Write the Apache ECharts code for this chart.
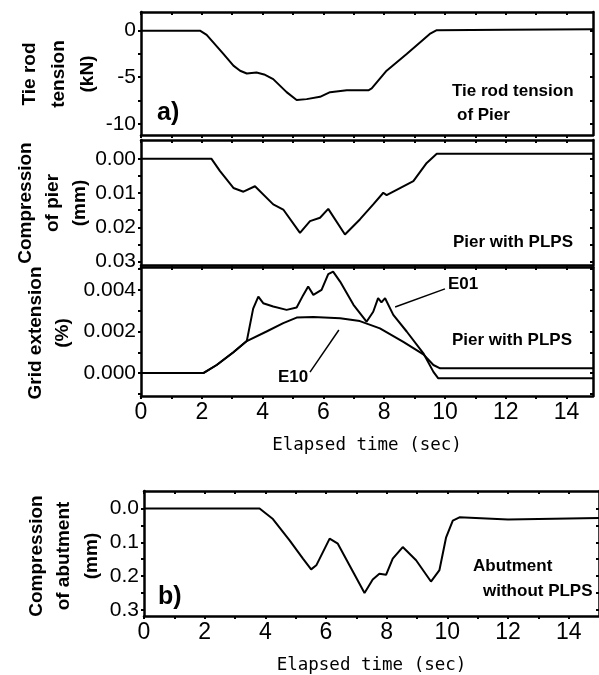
<!DOCTYPE html>
<html>
<head>
<meta charset="utf-8">
<script src="https://cdn.jsdelivr.net/npm/echarts@6/dist/echarts.min.js"></script>
<style>
  html, body { margin: 0; padding: 0; background: #fff; }
  #chart { width: 599px; height: 675px; }
</style>
</head>
<body>
<div id="chart"></div>
<script>
// a) tie rod tension (kN)
const tieTime = [0, 1.94, 2.16, 2.71, 3.04, 3.26, 3.48, 3.8, 4.05, 4.35, 4.79, 5.12, 5.45, 5.89, 6.22, 6.77, 7.48, 7.59, 8.08, 8.74, 9.5, 9.73, 12, 14.87];
const tieKN = [0, 0, -0.45, -2.5, -3.76, -4.3, -4.6, -4.5, -4.7, -5.2, -6.6, -7.45, -7.35, -7.1, -6.6, -6.4, -6.4, -6.2, -4.3, -2.5, -0.36, 0.05, 0.1, 0.15];

// a) compression of pier (mm)
const pierTime = [0, 2.32, 2.6, 3.04, 3.37, 3.75, 4.35, 4.68, 5.23, 5.56, 5.89, 6.16, 6.71, 7.2, 7.64, 7.97, 8.08, 8.96, 9.4, 9.73, 12, 14.87];
const pierMM = [0, 0, 0.0036, 0.0085, 0.0096, 0.008, 0.0133, 0.0148, 0.0216, 0.0182, 0.0172, 0.0146, 0.0221, 0.0177, 0.0133, 0.0099, 0.0106, 0.0065, 0.0012, -0.0015, -0.0015, -0.0015];

// a) grid extension (%)
const e01Time = [0, 2.05, 2.49, 3.04, 3.48, 3.69, 3.86, 4.02, 4.35, 4.79, 5.12, 5.34, 5.5, 5.67, 5.94, 6.16, 6.32, 6.55, 6.99, 7.42, 7.64, 7.8, 7.91, 8.03, 8.3, 8.74, 9.29, 9.62, 9.78, 12, 14.87];
const e01Pct = [0, 0, 0.00039, 0.001, 0.00154, 0.0031, 0.00368, 0.00336, 0.0032, 0.00304, 0.00315, 0.00376, 0.00416, 0.00376, 0.004, 0.00476, 0.00488, 0.0044, 0.00328, 0.00247, 0.00295, 0.0036, 0.0034, 0.0036, 0.0028, 0.002, 0.00095, 0.00006, -0.00025, -0.00025, -0.00025];
const e10Time = [0, 2.05, 2.49, 3.04, 3.48, 4.13, 4.68, 5.12, 5.67, 6.55, 7.2, 7.86, 8.63, 9.29, 9.62, 9.84, 12, 14.87];
const e10Pct = [0, 0, 0.00039, 0.001, 0.00154, 0.002, 0.0024, 0.00267, 0.0027, 0.00264, 0.0025, 0.00215, 0.0015, 0.0009, 0.00039, 0.00023, 0.00023, 0.00023];

// b) compression of abutment (mm)
const abutTime = [0, 3.81, 4.25, 4.8, 5.24, 5.51, 5.68, 6.12, 6.39, 6.89, 7.27, 7.54, 7.76, 7.98, 8.2, 8.53, 8.97, 9.46, 9.74, 9.96, 10.18, 10.4, 12, 15];
const abutMM = [0, 0, 0.031, 0.094, 0.148, 0.18, 0.168, 0.089, 0.104, 0.187, 0.25, 0.21, 0.193, 0.196, 0.148, 0.114, 0.153, 0.216, 0.182, 0.085, 0.036, 0.026, 0.032, 0.028];

// ticks and labels
const xTicks = [0, 1, 2, 3, 4, 5, 6, 7, 8, 9, 10, 11, 12, 13, 14];
const xLabels = [0, 2, 4, 6, 8, 10, 12, 14];
const tieTicks = [-10, -7.5, -5, -2.5, 0];
const tieLabels = [-10, -5, 0];
const pierTicks = [0, 0.005, 0.01, 0.015, 0.02, 0.025, 0.03];
const pierLabels = [0, 0.01, 0.02, 0.03];
const gridTicks = [-0.001, 0, 0.001, 0.002, 0.003, 0.004, 0.005];
const gridLabels = [0, 0.002, 0.004];
const abutTicks = [0, 0.05, 0.1, 0.15, 0.2, 0.25, 0.3];
const abutLabels = [0, 0.1, 0.2, 0.3];

const zip = (a, b) => a.map((t, i) => [t, b[i]]);
const black = "#000";
const sans = "Liberation Sans";

const xAxisFor = (grid, pos, max, labels, name) => ({
  type: "value",
  gridIndex: grid,
  position: pos,
  min: 0,
  max: max,
  name: name || "",
  nameLocation: "middle",
  nameGap: 40,
  nameTextStyle: { fontFamily: "DejaVu Sans Mono", fontSize: 17.5, color: black },
  axisLine: { show: true, onZero: false, lineStyle: { color: black, width: 2.5 } },
  axisTick: { show: true, inside: pos === "top", length: 3, customValues: xTicks, lineStyle: { color: black, width: 2 } },
  axisLabel: { show: !!labels, customValues: xLabels, fontFamily: sans, fontSize: 23, color: black, margin: 5 },
  splitLine: { show: false }
});

const yAxisFor = (grid, pos, min, max, ticks, labels, digits, inverse) => ({
  type: "value",
  gridIndex: grid,
  position: pos,
  min: min,
  max: max,
  inverse: !!inverse,
  axisLine: { show: true, onZero: false, lineStyle: { color: black, width: 2.5 } },
  axisTick: { show: true, inside: pos === "right", length: 3, customValues: ticks, lineStyle: { color: black, width: 2 } },
  axisLabel: {
    show: !!labels,
    customValues: labels || [],
    fontFamily: sans,
    fontSize: 21,
    color: black,
    margin: 5,
    formatter: v => (digits === null ? String(Math.round(v)) : Number(v).toFixed(digits))
  },
  splitLine: { show: false }
});

const lineSeries = (data, xi, yi, extra) => Object.assign({
  type: "line",
  xAxisIndex: xi,
  yAxisIndex: yi,
  data: data,
  showSymbol: false,
  symbol: "none",
  lineStyle: { color: black, width: 2 },
  z: 3
}, extra || {});

const txt = (x, y, text, size, extra) => Object.assign({
  type: "text",
  x: x,
  y: y,
  style: {
    text: text,
    fontFamily: sans,
    fontWeight: "bold",
    fontSize: size,
    fill: black,
    textAlign: "left",
    textVerticalAlign: "middle"
  }
}, extra || {});

const vTitle = (x, y, text, lh) => ({
  type: "text",
  x: x,
  y: y,
  rotation: Math.PI / 2,
  style: {
    text: text,
    fontFamily: sans,
    fontWeight: "bold",
    fontSize: 19,
    lineHeight: lh,
    fill: black,
    textAlign: "center",
    textVerticalAlign: "middle"
  }
});

const leader = (from, to) => ({
  silent: true,
  symbol: "none",
  label: { show: false },
  lineStyle: { color: black, width: 1.5, type: "solid" },
  data: [[{ coord: from }, { coord: to }]]
});

const chart = echarts.init(document.getElementById("chart"));
chart.setOption({
  animation: false,
  backgroundColor: "#fff",
  grid: [
    { left: 141, top: 12, width: 452, height: 123 },
    { left: 141, top: 140, width: 452, height: 125 },
    { left: 141, top: 267, width: 452, height: 129 },
    { left: 144, top: 491, width: 457, height: 127 }
  ],
  xAxis: [
    xAxisFor(0, "bottom", 14.87, false),
    xAxisFor(1, "bottom", 14.87, false),
    xAxisFor(2, "bottom", 14.87, true, "Elapsed time (sec)"),
    xAxisFor(3, "bottom", 15, true, "Elapsed time (sec)"),
    xAxisFor(0, "top", 14.87, false),
    xAxisFor(1, "top", 14.87, false),
    xAxisFor(2, "top", 14.87, false),
    xAxisFor(3, "top", 15, false)
  ],
  yAxis: [
    yAxisFor(0, "left", -11.2, 2, tieTicks, tieLabels, null),
    yAxisFor(1, "left", -0.0055, 0.031, pierTicks, pierLabels, 2, true),
    yAxisFor(2, "left", -0.0011, 0.0051, gridTicks, gridLabels, 3),
    yAxisFor(3, "left", -0.052, 0.318, abutTicks, abutLabels, 1, true),
    yAxisFor(0, "right", -11.2, 2, tieTicks, null, null),
    yAxisFor(1, "right", -0.0055, 0.031, pierTicks, null, 2, true),
    yAxisFor(2, "right", -0.0011, 0.0051, gridTicks, null, 3),
    yAxisFor(3, "right", -0.052, 0.318, abutTicks, null, 1, true)
  ],
  series: [
    lineSeries(zip(tieTime, tieKN), 0, 0),
    lineSeries(zip(pierTime, pierMM), 1, 1),
    lineSeries(zip(e01Time, e01Pct), 2, 2, { markLine: leader([10.0, 0.00405], [8.36, 0.00318]) }),
    lineSeries(zip(e10Time, e10Pct), 2, 2, { markLine: leader([5.56, 0.00005], [6.51, 0.00207]) }),
    lineSeries(zip(abutTime, abutMM), 3, 3)
  ],
  graphic: [
    vTitle(59, 74, "Tie rod\ntension\n(kN)", 29),
    vTitle(53, 203, "Compression\nof pier\n(mm)", 27),
    vTitle(49, 333, "Grid extension\n(%)", 27),
    vTitle(64, 556, "Compression\nof abutment\n(mm)", 27.5),
    txt(157, 113, "a)", 25),
    txt(158, 597, "b)", 25),
    txt(452, 91, "Tie rod tension", 17),
    txt(457, 115, "of Pier", 17),
    txt(453, 242, "Pier with PLPS", 17),
    txt(452, 340, "Pier with PLPS", 17),
    txt(448, 284, "E01", 17),
    txt(278, 377, "E10", 17),
    txt(473, 566, "Abutment", 17),
    txt(483, 591, "without PLPS", 17)
  ]
});
</script>
</body>
</html>
